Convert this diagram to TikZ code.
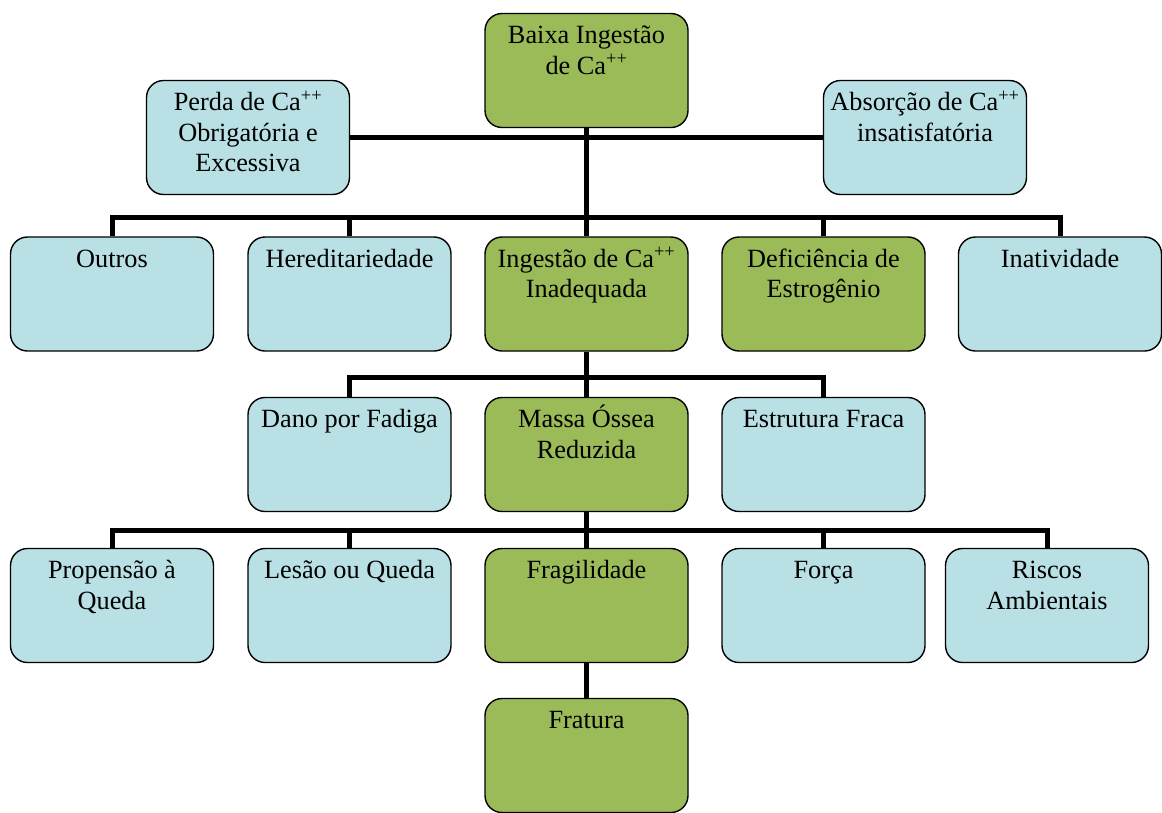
\documentclass[tikz,border=0pt]{standalone}
\usepackage{fontspec}
\setmainfont{Liberation Serif}
\definecolor{boxgreen}{HTML}{9BBB59}
\definecolor{boxblue}{HTML}{B9E0E4}
% box text: set from the top of the box, first baseline 30pt below the top edge
\newcommand{\boxlabel}[1]{\parbox[c][114pt][t]{203pt}{\centering\fontsize{26.3pt}{30.5pt}\selectfont\rule{0pt}{30pt}#1\par}}
\tikzset{
  cbox/.style={draw=black, line width=1.4pt, rounded corners=17pt, inner sep=0pt,
    minimum width=203pt, minimum height=114pt},
  greenbox/.style={cbox, fill=boxgreen},
  bluebox/.style={cbox, fill=boxblue},
  link/.style={draw=black, line width=5pt, line join=miter}
}
\begin{document}
\begin{tikzpicture}[x=1pt,y=-1pt]
\useasboundingbox (0,0) rectangle (1162,812);

% connectors go underneath the boxes
\coordinate (busA) at (586.5,217);
\coordinate (busB) at (586.5,377);
\coordinate (busC) at (586.5,530);

% top level
\node[greenbox] (base)   at (586.5,70.5)  {\boxlabel{Baixa Ingestão\\de Ca\textsuperscript{++}}};
\node[bluebox]  (perda)  at (248,137.5)   {\boxlabel{Perda de Ca\textsuperscript{++}\\Obrigatória e\\Excessiva}};
\node[bluebox]  (absor)  at (925,137.5)   {\boxlabel{Absorção de Ca\textsuperscript{++}\\insatisfatória}};

% second level
\node[bluebox]  (outros) at (112,294)     {\boxlabel{Outros}};
\node[bluebox]  (hered)  at (349.5,294)   {\boxlabel{Hereditariedade}};
\node[greenbox] (ingest) at (586.5,294)   {\boxlabel{Ingestão de Ca\textsuperscript{++}\\Inadequada}};
\node[greenbox] (defic)  at (823.5,294)   {\boxlabel{Deficiência de\\Estrogênio}};
\node[bluebox]  (inat)   at (1060,294)    {\boxlabel{Inatividade}};

% third level
\node[bluebox]  (dano)   at (349.5,454.5) {\boxlabel{Dano por Fadiga}};
\node[greenbox] (massa)  at (586.5,454.5) {\boxlabel{Massa Óssea\\Reduzida}};
\node[bluebox]  (estrut) at (823.5,454.5) {\boxlabel{Estrutura Fraca}};

% fourth level
\node[bluebox]  (prop)   at (112,605.5)   {\boxlabel{Propensão à\\Queda}};
\node[bluebox]  (lesao)  at (349.5,605.5) {\boxlabel{Lesão ou Queda}};
\node[greenbox] (frag)   at (586.5,605.5) {\boxlabel{Fragilidade}};
\node[bluebox]  (forca)  at (823.5,605.5) {\boxlabel{Força}};
\node[bluebox]  (riscos) at (1047,605.5)  {\boxlabel{Riscos\\Ambientais}};

% bottom
\node[greenbox] (frat)   at (586.5,755.5) {\boxlabel{Fratura}};

% trunk and branches
\draw[link] (base.south) -- (ingest.north);
\draw[link] (perda.east) -- (absor.west);
\draw[link] (outros.north) |- (busA) -| (inat.north);
\draw[link] (hered.north) -- (hered.north |- busA);
\draw[link] (defic.north) -- (defic.north |- busA);

\draw[link] (ingest.south) -- (massa.north);
\draw[link] (dano.north) |- (busB) -| (estrut.north);

\draw[link] (massa.south) -- (frag.north);
\draw[link] (prop.north) |- (busC) -| (riscos.north);
\draw[link] (lesao.north) -- (lesao.north |- busC);
\draw[link] (forca.north) -- (forca.north |- busC);

\draw[link] (frag.south) -- (frat.north);
\end{tikzpicture}
\end{document}
